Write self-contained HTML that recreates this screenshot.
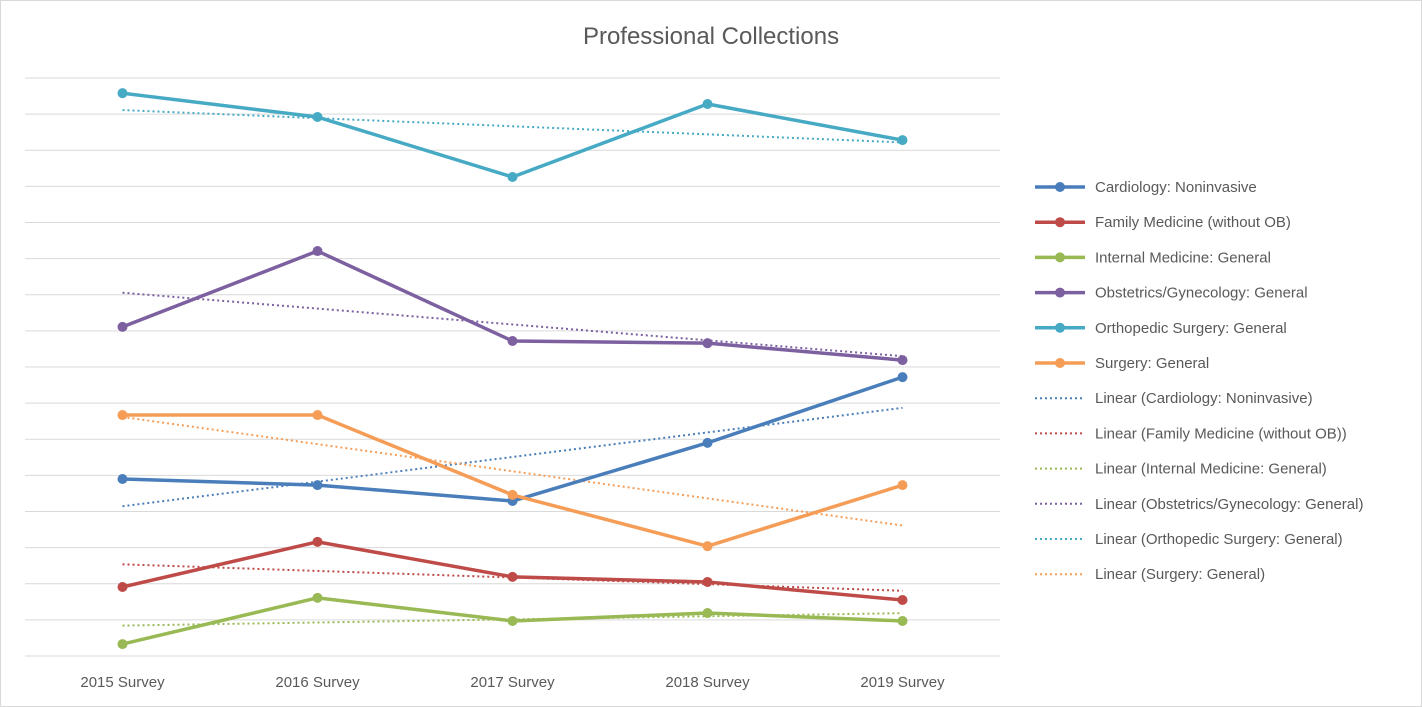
<!DOCTYPE html>
<html><head><meta charset="utf-8"><style>
body{margin:0;background:#fff;}
svg{display:block;font-family:"Liberation Sans",sans-serif;}
</style></head><body>
<svg id="chart" width="1422" height="707">
<rect x="0.5" y="0.5" width="1421" height="706" fill="#fff" stroke="#d9d9d9"/>
<text x="711" y="44" text-anchor="middle" font-size="24" fill="#595959">Professional Collections</text>
<g id="grid"></g><g id="xlabels"></g><g id="trends"></g><g id="series"></g><g id="legend"></g>
</svg>
<script>
const categories=["2015 Survey","2016 Survey","2017 Survey","2018 Survey","2019 Survey"];
const seriesNames=["Cardiology: Noninvasive","Family Medicine (without OB)","Internal Medicine: General","Obstetrics/Gynecology: General","Orthopedic Surgery: General","Surgery: General"];
const cardiology=[4.90,4.73,4.29,5.90,7.72];
const familyMed=[1.91,3.16,2.19,2.05,1.55];
const internalMed=[0.33,1.61,0.97,1.19,0.97];
const obgyn=[9.11,11.21,8.72,8.66,8.19];
const ortho=[15.58,14.92,13.26,15.28,14.28];
const surgery=[6.67,6.67,4.46,3.04,4.73];
const yMax=16;
const colors=["#4a7ebb","#be4b48","#98b954","#7d60a0","#46aac5","#f59d56"];
const allSeries=[cardiology,familyMed,internalMed,obgyn,ortho,surgery];
const NS="http://www.w3.org/2000/svg";
const L=25,R=1000,T=78,B=656;
const xScale=i=>L+(R-L)/categories.length*(i+0.5);
const yScale=v=>B-(B-T)*v/yMax;
function mk(tag,attrs,parent){const e=document.createElementNS(NS,tag);for(const k in attrs)e.setAttribute(k,attrs[k]);parent.appendChild(e);return e;}
const grid=document.getElementById('grid');
for(let g=0;g<=yMax;g++){
 const ln=mk('line',{x1:L,x2:R,y1:yScale(g),y2:yScale(g),stroke:'#d9d9d9','stroke-width':1},grid);
 
 
}
const xl=document.getElementById('xlabels');
categories.forEach((c,i)=>{
 const t=mk('text',{x:xScale(i),y:687,'text-anchor':'middle','font-size':15,fill:'#595959'},xl);
 t.textContent=c;
 
 
});
const tg=document.getElementById('trends'),sg=document.getElementById('series');
allSeries.forEach((d,s)=>{
 const n=d.length;let mx=(n-1)/2,my=d.reduce((a,b)=>a+b,0)/n,num=0,den=0;
 d.forEach((v,i)=>{num+=(i-mx)*(v-my);den+=(i-mx)*(i-mx);});
 const slope=num/den,b0=my-slope*mx;
 const tl=mk('line',{x1:xScale(0),y1:yScale(b0),x2:xScale(n-1),y2:yScale(b0+slope*(n-1)),stroke:colors[s],'stroke-width':2,'stroke-dasharray':'2 3'},tg);
 
 
 const p=mk('polyline',{points:d.map((v,i)=>xScale(i)+','+yScale(v)).join(' '),fill:'none',stroke:colors[s],'stroke-width':3.5,'stroke-linejoin':'round'},sg);
 
 
 d.forEach((v,i)=>{
  const c=mk('circle',{cx:xScale(i),cy:yScale(v),r:5,fill:colors[s]},sg);
  
  
 });
});
const lg=document.getElementById('legend');
const legendLabels=seriesNames.concat(seriesNames.map(n=>'Linear ('+n+')'));
legendLabels.forEach((lab,k)=>{
 const y=187+k*35.2,s=k%6,dotted=k>=6;
 const g=mk('g',{},lg);
 
 
 mk('line',{x1:1035,x2:1085,y1:y,y2:y,stroke:colors[s],'stroke-width':dotted?2:3.5,'stroke-dasharray':dotted?'2 3':'none'},g);
 if(!dotted)mk('circle',{cx:1060,cy:y,r:5,fill:colors[s]},g);
 const t=mk('text',{x:1095,y:y+5,'font-size':15,fill:'#595959'},g);
 t.textContent=lab;
});
</script>
</body></html>
